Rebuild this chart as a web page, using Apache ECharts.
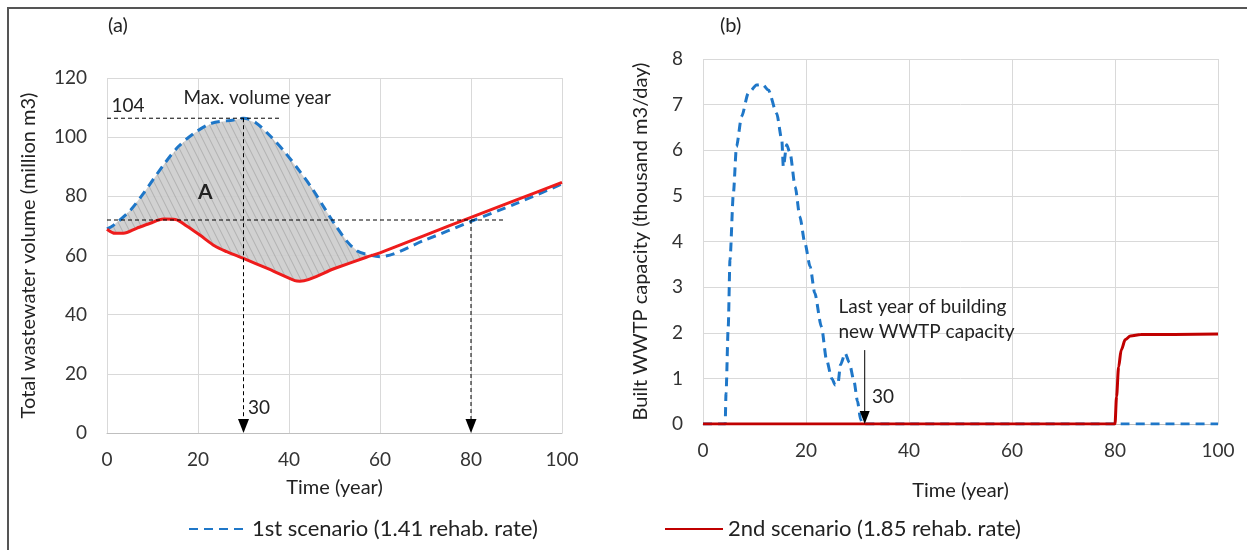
<!DOCTYPE html>
<html>
<head>
<meta charset="utf-8">
<title>WWTP scenarios</title>
<script src="https://cdn.jsdelivr.net/npm/echarts@6/dist/echarts.min.js"></script>
<style>
html, body { margin: 0; padding: 0; background: #fff; }
#main { width: 1247px; height: 550px; }
</style>
</head>
<body>
<div id="main"></div>
<script>
// (a) total wastewater volume, million m3
var volYears1 = [0, 1.4, 5.2, 8.1, 12.7, 15.8, 19.3, 23, 27.8, 30, 32.7, 36, 39, 42.3, 45.2, 47.8, 50.3, 52.8, 54.9, 57.1, 60, 70, 80, 90, 100];
var vol1      = [69, 70.2, 75.4, 81.2, 91.2, 97, 101.5, 104.7, 105.8, 106.4, 104.9, 100.2, 95.1, 88.6, 82.4, 76, 70, 64.7, 61.6, 60.4, 59.6, 65.3, 71.5, 77.6, 84.2];
var volYears2 = [0, 1.8, 3.6, 6.5, 9.5, 12.4, 15, 17.5, 20.4, 23.7, 26.3, 30, 35.1, 41.3, 42.4, 50, 57, 60, 70, 80, 90, 100];
var vol2      = [68.9, 67.5, 67.5, 69.2, 70.9, 72.3, 72.2, 70, 66.9, 63.2, 61.3, 59, 55.7, 51.5, 51.3, 55.6, 59.4, 60.9, 66.9, 72.9, 78.8, 84.7];
var shadeTo = 57.1;   // end of area A
var maxVolYear = 30, maxVol = 106.4, crossYear = 80, crossVol = 72;

// (b) built WWTP capacity, thousand m3/day
var capYears1 = [0, 4.3, 4.47, 4.9, 5.24, 5.9, 6.5, 7.5, 8.8, 10.4, 11.5, 12.7, 14.3, 15.3, 15.6, 16.25, 16.9, 17.9, 18.8, 19.8, 20.8, 21.7, 23, 24, 25, 25.7, 26.2, 26.7, 27.6, 28.4, 29.3, 30, 30.6, 31, 100];
var cap1      = [0, 0, 0.67, 2.13, 3.6, 5.06, 6.08, 6.74, 7.25, 7.43, 7.45, 7.32, 6.81, 6.23, 5.64, 6.12, 5.94, 5.2, 4.55, 3.96, 3.45, 2.87, 2.13, 1.4, 1.0, 0.85, 0.88, 1.3, 1.55, 1.35, 0.95, 0.5, 0.1, 0, 0];
var capYears2 = [0, 80, 80.3, 80.7, 81.2, 82, 83, 85, 100];
var cap2      = [0, 0, 0.6, 1.25, 1.62, 1.85, 1.93, 1.96, 1.97];
var lastBuildYear = 31.4, arrowTop = 1.62;

var name1 = '1st scenario (1.41 rehab. rate)';
var name2 = '2nd scenario (1.85 rehab. rate)';
var blue = '#1f77c8', redA = '#ee1c1c', redB = '#c00000';
var font = 'Lato';

function pairs(xs, ys) {
	var out = [];
	for (var i = 0; i < xs.length; i++) out.push([xs[i], ys[i]]);
	return out;
}

// hatch pattern for area A
var pat = document.createElement('canvas');
pat.width = 7; pat.height = 14;
var pc = pat.getContext('2d');
pc.fillStyle = '#cdcdcd';
pc.fillRect(0, 0, 7, 14);
pc.strokeStyle = '#909090';
pc.lineWidth = 0.6;
pc.beginPath();
pc.moveTo(-7, -14); pc.lineTo(14, 28);
pc.moveTo(0, -14); pc.lineTo(14, 14);
pc.moveTo(-7, 0); pc.lineTo(7, 28);
pc.stroke();

// polygon of area A: along scenario 1, back along scenario 2
var shadePts = [];
for (var i = 0; i < volYears1.length; i++) if (volYears1[i] <= shadeTo) shadePts.push([volYears1[i], vol1[i]]);
for (var j = volYears2.length - 1; j >= 0; j--) if (volYears2[j] <= shadeTo) shadePts.push([volYears2[j], vol2[j]]);

function downArrow(api, x, yTop, dashed, headW, headH) {
	var top = api.coord([x, yTop]);
	var tip = api.coord([x, 0]);
	return [
		{ type: 'line', shape: { x1: top[0], y1: top[1], x2: tip[0], y2: tip[1] - headH + 1 },
		  style: { stroke: '#000', lineWidth: 1, lineDash: dashed ? [4, 3] : null } },
		{ type: 'polygon', shape: { points: [[tip[0] - headW / 2, tip[1] - headH], [tip[0] + headW / 2, tip[1] - headH], [tip[0], tip[1]]] },
		  style: { fill: '#000' } }
	];
}

function txt(api, x, y, s, opt) {
	var p = api.coord([x, y]);
	return { type: 'text', x: p[0], y: p[1], style: Object.assign({ text: s, fill: '#222', font: '19px ' + font, align: 'left', verticalAlign: 'middle' }, opt || {}) };
}

var axisText = { color: '#333', fontSize: 19, fontFamily: font };
var nameText = { color: '#222', fontSize: 20, fontFamily: font };
function xAx(idx, gap) {
	return { type: 'value', gridIndex: idx, min: 0, max: 100, interval: 20,
		name: 'Time (year)', nameLocation: 'middle', nameGap: gap, nameTextStyle: nameText,
		axisLine: { lineStyle: { color: '#bfbfbf' } }, axisTick: { show: false },
		axisLabel: Object.assign({ margin: 17 }, axisText),
		splitLine: { show: true, lineStyle: { color: '#d9d9d9' } } };
}
function yAx(idx, max, interval, name, gap) {
	return { type: 'value', gridIndex: idx, min: 0, max: max, interval: interval,
		name: name, nameLocation: 'middle', nameGap: gap, nameTextStyle: nameText,
		axisLine: { show: false }, axisTick: { show: false },
		axisLabel: Object.assign({ margin: 20 }, axisText),
		splitLine: { lineStyle: { color: '#d9d9d9' } } };
}
function legendAt(left, name) {
	return { left: left, top: 513, itemWidth: 58, itemHeight: 14, itemGap: 5,
		itemStyle: { opacity: 0 },
		textStyle: { fontSize: 22, color: '#222', fontFamily: font }, data: [name] };
}

var chart = echarts.init(document.getElementById('main'));
chart.setOption({
	animation: false,
	textStyle: { fontFamily: font },
	grid: [
		{ left: 107, top: 78, width: 455, height: 355 },
		{ left: 703, top: 59, width: 515, height: 365 }
	],
	xAxis: [xAx(0, 45), xAx(1, 57)],
	yAxis: [
		yAx(0, 120, 20, 'Total wastewater volume (million m3)', 68),
		yAx(1, 8, 1, 'Built WWTP capacity (thousand m3/day)', 52)
	],
	legend: [legendAt(183, name1), legendAt(659, name2)],
	graphic: [
		{ type: 'line', shape: { x1: 7, y1: 8, x2: 1247, y2: 8 }, style: { stroke: '#555', lineWidth: 2 } },
		{ type: 'line', shape: { x1: 8, y1: 7, x2: 8, y2: 550 }, style: { stroke: '#555', lineWidth: 2 } },
		{ type: 'text', left: 108, top: 16, style: { text: '(a)', font: '20px ' + font, fill: '#222' } },
		{ type: 'text', left: 720, top: 16, style: { text: '(b)', font: '20px ' + font, fill: '#222' } }
	],
	series: [
		{ type: 'custom', xAxisIndex: 0, yAxisIndex: 0, data: [0], silent: true, z: 1,
		  renderItem: function (params, api) {
			return { type: 'polygon', shape: { points: shadePts.map(function (p) { return api.coord(p); }) },
				style: { fill: { image: pat, repeat: 'repeat' }, opacity: 0.9 } };
		  } },
		// panel (b) first so the legend takes the dark red of (b)
		{ name: name1, type: 'line', xAxisIndex: 1, yAxisIndex: 1, data: pairs(capYears1, cap1),
		  smooth: 0.25, smoothMonotone: 'x', symbol: 'none', z: 3, lineStyle: { color: blue, width: 3, type: [9, 6] }, itemStyle: { color: blue } },
		{ name: name2, type: 'line', xAxisIndex: 1, yAxisIndex: 1, data: pairs(capYears2, cap2),
		  smooth: 0.3, smoothMonotone: 'x', symbol: 'none', z: 4, lineStyle: { color: redB, width: 3 }, itemStyle: { color: redB } },
		{ name: name1, type: 'line', xAxisIndex: 0, yAxisIndex: 0, data: pairs(volYears1, vol1),
		  smooth: 0.3, symbol: 'none', z: 3, lineStyle: { color: blue, width: 3, type: [9, 6] }, itemStyle: { color: blue } },
		{ name: name2, type: 'line', xAxisIndex: 0, yAxisIndex: 0, data: pairs(volYears2, vol2),
		  smooth: 0.3, symbol: 'none', z: 4, lineStyle: { color: redA, width: 3 }, itemStyle: { color: redA } },
		{ type: 'custom', xAxisIndex: 0, yAxisIndex: 0, data: [0], silent: true, z: 5,
		  renderItem: function (params, api) {
			var kids = [];
			var a = api.coord([0, maxVol]), b = api.coord([38, maxVol]);
			kids.push({ type: 'line', shape: { x1: a[0], y1: a[1], x2: b[0], y2: b[1] }, style: { stroke: '#000', lineWidth: 1, lineDash: [4, 3] } });
			a = api.coord([0, crossVol]); b = api.coord([87.5, crossVol]);
			kids.push({ type: 'line', shape: { x1: a[0], y1: a[1], x2: b[0], y2: b[1] }, style: { stroke: '#000', lineWidth: 1, lineDash: [4, 3] } });
			kids = kids.concat(downArrow(api, maxVolYear, maxVol, true, 11, 14));
			kids = kids.concat(downArrow(api, crossYear, crossVol, true, 11, 14));
			kids.push(txt(api, 1, 110.5, '104'));
			kids.push(txt(api, 33, 113.3, 'Max. volume year', { align: 'center' }));
			kids.push(txt(api, 21.6, 81.4, 'A', { font: 'bold 21px ' + font, align: 'center' }));
			kids.push(txt(api, 31, 8.5, '30'));
			return { type: 'group', children: kids };
		  } },
		{ type: 'custom', xAxisIndex: 1, yAxisIndex: 1, data: [0], silent: true, z: 5,
		  renderItem: function (params, api) {
			var kids = downArrow(api, lastBuildYear, arrowTop, false, 10, 13);
			kids.push(txt(api, 26.3, 2.57, 'Last year of building'));
			kids.push(txt(api, 26.3, 2.03, 'new WWTP capacity'));
			kids.push(txt(api, 32.8, 0.6, '30'));
			return { type: 'group', children: kids };
		  } }
	]
});
</script>
</body>
</html>
